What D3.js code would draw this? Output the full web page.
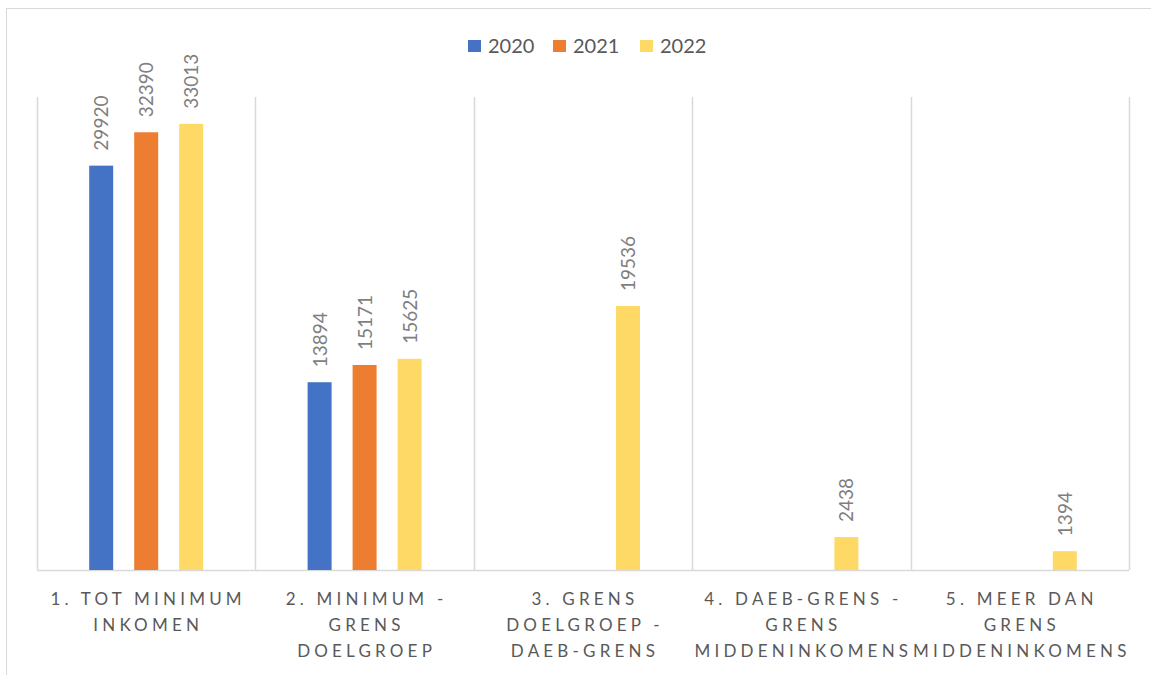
<!DOCTYPE html>
<html>
<head>
<meta charset="utf-8">
<script src="https://cdn.jsdelivr.net/npm/d3@7"></script>
<style>
    body { margin: 0; background: #fff; }
    svg { display: block; }
</style>
</head>
<body>
<div id="chart"></div>
<script>
// Chart data
var categories = [
    '1. TOT MINIMUM INKOMEN',
    '2. MINIMUM - GRENS DOELGROEP',
    '3. GRENS DOELGROEP - DAEB-GRENS',
    '4. DAEB-GRENS - GRENS MIDDENINKOMENS',
    '5. MEER DAN GRENS MIDDENINKOMENS'
];
// wrapped lines as they appear under the axis
var categoryLines = [
    ['1. TOT MINIMUM', 'INKOMEN'],
    ['2. MINIMUM -', 'GRENS', 'DOELGROEP'],
    ['3. GRENS', 'DOELGROEP -', 'DAEB-GRENS'],
    ['4. DAEB-GRENS -', 'GRENS', 'MIDDENINKOMENS'],
    ['5. MEER DAN', 'GRENS', 'MIDDENINKOMENS']
];
var seriesNames = ['2020', '2021', '2022'];
var values2020 = [29920, 13894, null, null, null];
var values2021 = [32390, 15171, null, null, null];
var values2022 = [33013, 15625, 19536, 2438, 1394];
var seriesColors = ['#4472c4', '#ed7d31', '#ffd966'];

var W = 1151, H = 675;
var margin = { top: 97, right: 22, bottom: 105, left: 37 };
var fontFam = 'Lato, "Open Sans", sans-serif';

var svg = d3.select( '#chart' ).append( 'svg' )
    .attr( 'width', W )
    .attr( 'height', H );

// outer frame
svg.append( 'rect' )
    .attr( 'x', 6.5 ).attr( 'y', 8.5 )
    .attr( 'width', W + 20 ).attr( 'height', H + 20 )
    .attr( 'fill', 'none' )
    .attr( 'stroke', '#d9d9d9' );

var x = d3.scaleBand()
    .domain( categories )
    .range( [margin.left, W - margin.right] );

var x1 = d3.scaleBand()
    .domain( seriesNames )
    .range( [0, x.bandwidth()] )
    .paddingInner( 0.467 )
    .paddingOuter( 1.16 );

var y = d3.scaleLinear()
    .domain( [0, 35000] )
    .range( [H - margin.bottom, margin.top] );

// vertical category separators
var seps = categories.map( function ( c ) { return x( c ); } );
seps.push( x.range()[1] );
svg.append( 'g' )
    .selectAll( 'line' )
    .data( seps )
    .join( 'line' )
        .attr( 'x1', d => Math.round( d ) + 0.5 )
        .attr( 'x2', d => Math.round( d ) + 0.5 )
        .attr( 'y1', margin.top )
        .attr( 'y2', H - margin.bottom )
        .attr( 'stroke', '#d9d9d9' )
        .attr( 'stroke-width', 1.5 );

// baseline
svg.append( 'line' )
    .attr( 'x1', margin.left ).attr( 'x2', W - margin.right )
    .attr( 'y1', y( 0 ) + 0.5 ).attr( 'y2', y( 0 ) + 0.5 )
    .attr( 'stroke', '#d9d9d9' )
    .attr( 'stroke-width', 1.5 );

var allSeries = [values2020, values2021, values2022];
var barData = [];
categories.forEach( function ( c, i ) {
    allSeries.forEach( function ( s, j ) {
        if ( s[i] !== null ) {
            barData.push( { cat: c, series: seriesNames[j], value: s[i], color: seriesColors[j] } );
        }
    } );
} );

svg.append( 'g' )
    .selectAll( 'rect' )
    .data( barData )
    .join( 'rect' )
        .attr( 'x', d => x( d.cat ) + x1( d.series ) )
        .attr( 'y', d => y( d.value ) )
        .attr( 'width', x1.bandwidth() )
        .attr( 'height', d => y( 0 ) - y( d.value ) )
        .attr( 'fill', d => d.color );

// rotated value labels
svg.append( 'g' )
    .selectAll( 'text' )
    .data( barData )
    .join( 'text' )
        .attr( 'transform', d => 'translate(' + ( x( d.cat ) + x1( d.series ) + x1.bandwidth() / 2 + 7 ) + ',' + ( y( d.value ) - 15 ) + ') rotate(-90)' )
        .attr( 'font-family', fontFam )
        .attr( 'font-size', 19 )
        .attr( 'fill', '#7f7f7f' )
        .text( d => d.value );

// category labels
var catG = svg.append( 'g' )
    .selectAll( 'text' )
    .data( categories )
    .join( 'text' )
        .attr( 'text-anchor', 'middle' )
        .attr( 'font-family', fontFam )
        .attr( 'font-size', 17 )
        .attr( 'letter-spacing', 4.2 )
        .attr( 'fill', '#595959' );

catG.each( function ( d, i ) {
    var t = d3.select( this );
    categoryLines[i].forEach( function ( line, k ) {
        t.append( 'tspan' )
            .attr( 'x', x( d ) + x.bandwidth() / 2 + 2 )
            .attr( 'y', 605 + k * 26 )
            .text( line );
    } );
} );

// legend
var legendX = [468, 553, 640];
var legend = svg.append( 'g' )
    .selectAll( 'g' )
    .data( seriesNames )
    .join( 'g' )
        .attr( 'transform', ( d, i ) => 'translate(' + legendX[i] + ',40)' );
legend.append( 'rect' )
    .attr( 'width', 13 ).attr( 'height', 12 )
    .attr( 'fill', ( d, i ) => seriesColors[i] );
legend.append( 'text' )
    .attr( 'x', 20 )
    .attr( 'y', 13 )
    .attr( 'font-family', fontFam )
    .attr( 'font-size', 20 )
    .attr( 'fill', '#595959' )
    .text( d => d );
</script>
</body>
</html>
